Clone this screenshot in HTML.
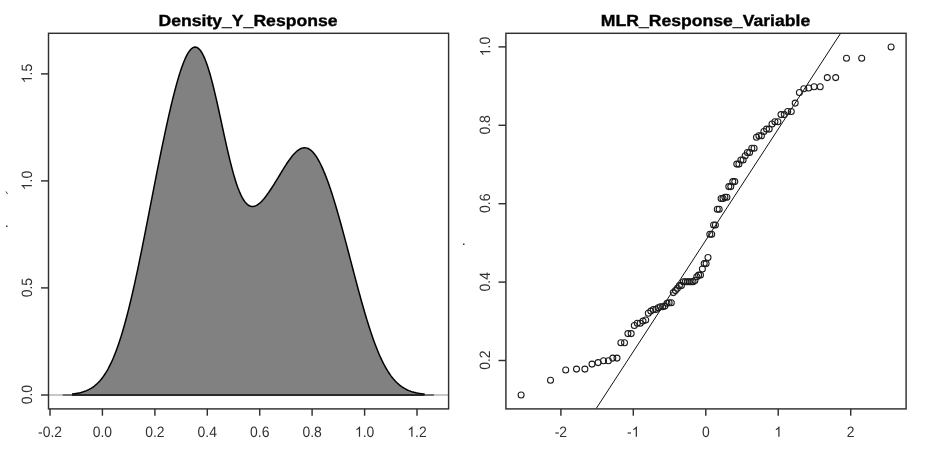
<!DOCTYPE html>
<html><head><meta charset="utf-8"><style>
html,body{margin:0;padding:0;background:#fff;}
body{width:925px;height:451px;overflow:hidden;position:relative;}
svg{position:absolute;left:0;top:0;will-change:transform;}
text{font-family:"Liberation Sans",sans-serif;}
</style></head><body>
<svg width="925" height="451" viewBox="0 0 925 451">
<rect x="0" y="0" width="925" height="451" fill="#fff"/>
<!-- left panel -->
<line x1="48.5" y1="395" x2="448" y2="395" stroke="#b4b4b4" stroke-width="1.6"/>
<line x1="62.7" y1="395" x2="434" y2="395" stroke="#555" stroke-width="1.6"/>
<path d="M72.0,394.05 L73.0,393.93 L74.0,393.81 L75.0,393.67 L76.0,393.51 L77.0,393.34 L78.0,393.15 L79.0,392.94 L80.0,392.72 L81.0,392.47 L82.0,392.19 L83.0,391.89 L84.0,391.57 L85.0,391.21 L86.0,390.83 L87.0,390.40 L88.0,389.95 L89.0,389.45 L90.0,388.91 L91.0,388.33 L92.0,387.71 L93.0,387.03 L94.0,386.30 L95.0,385.52 L96.0,384.68 L97.0,383.78 L98.0,382.81 L99.0,381.78 L100.0,380.68 L101.0,379.51 L102.0,378.26 L103.0,376.93 L104.0,375.52 L105.0,374.02 L106.0,372.44 L107.0,370.76 L108.0,369.00 L109.0,367.13 L110.0,365.17 L111.0,363.11 L112.0,360.95 L113.0,358.68 L114.0,356.31 L115.0,353.83 L116.0,351.24 L117.0,348.54 L118.0,345.74 L119.0,342.82 L120.0,339.79 L121.0,336.64 L122.0,333.39 L123.0,330.03 L124.0,326.56 L125.0,322.98 L126.0,319.30 L127.0,315.51 L128.0,311.62 L129.0,307.64 L130.0,303.55 L131.0,299.37 L132.0,295.11 L133.0,290.75 L134.0,286.31 L135.0,281.80 L136.0,277.21 L137.0,272.55 L138.0,267.82 L139.0,263.03 L140.0,258.19 L141.0,253.29 L142.0,248.35 L143.0,243.37 L144.0,238.35 L145.0,233.29 L146.0,228.21 L147.0,223.11 L148.0,217.99 L149.0,212.86 L150.0,207.72 L151.0,202.58 L152.0,197.44 L153.0,192.31 L154.0,187.19 L155.0,182.09 L156.0,177.00 L157.0,171.94 L158.0,166.91 L159.0,161.91 L160.0,156.94 L161.0,152.02 L162.0,147.14 L163.0,142.32 L164.0,137.55 L165.0,132.83 L166.0,128.18 L167.0,123.60 L168.0,119.09 L169.0,114.66 L170.0,110.30 L171.0,106.04 L172.0,101.87 L173.0,97.80 L174.0,93.84 L175.0,89.99 L176.0,86.25 L177.0,82.64 L178.0,79.16 L179.0,75.82 L180.0,72.63 L181.0,69.58 L182.0,66.70 L183.0,63.98 L184.0,61.44 L185.0,59.08 L186.0,56.91 L187.0,54.94 L188.0,53.18 L189.0,51.62 L190.0,50.28 L191.0,49.17 L192.0,48.28 L193.0,47.64 L194.0,47.23 L195.0,47.06 L196.0,47.14 L197.0,47.47 L198.0,48.06 L199.0,48.89 L200.0,49.98 L201.0,51.32 L202.0,52.92 L203.0,54.75 L204.0,56.83 L205.0,59.15 L206.0,61.71 L207.0,64.48 L208.0,67.47 L209.0,70.67 L210.0,74.06 L211.0,77.64 L212.0,81.40 L213.0,85.31 L214.0,89.36 L215.0,93.55 L216.0,97.85 L217.0,102.25 L218.0,106.73 L219.0,111.27 L220.0,115.86 L221.0,120.48 L222.0,125.11 L223.0,129.74 L224.0,134.35 L225.0,138.91 L226.0,143.42 L227.0,147.85 L228.0,152.19 L229.0,156.43 L230.0,160.56 L231.0,164.55 L232.0,168.40 L233.0,172.09 L234.0,175.62 L235.0,178.98 L236.0,182.15 L237.0,185.14 L238.0,187.93 L239.0,190.53 L240.0,192.92 L241.0,195.11 L242.0,197.10 L243.0,198.89 L244.0,200.48 L245.0,201.87 L246.0,203.07 L247.0,204.08 L248.0,204.90 L249.0,205.54 L250.0,206.01 L251.0,206.32 L252.0,206.46 L253.0,206.46 L254.0,206.31 L255.0,206.03 L256.0,205.62 L257.0,205.09 L258.0,204.45 L259.0,203.70 L260.0,202.86 L261.0,201.93 L262.0,200.91 L263.0,199.82 L264.0,198.66 L265.0,197.43 L266.0,196.15 L267.0,194.81 L268.0,193.42 L269.0,191.99 L270.0,190.52 L271.0,189.01 L272.0,187.48 L273.0,185.91 L274.0,184.32 L275.0,182.71 L276.0,181.08 L277.0,179.44 L278.0,177.80 L279.0,176.14 L280.0,174.49 L281.0,172.84 L282.0,171.20 L283.0,169.57 L284.0,167.96 L285.0,166.37 L286.0,164.81 L287.0,163.28 L288.0,161.79 L289.0,160.34 L290.0,158.95 L291.0,157.61 L292.0,156.33 L293.0,155.11 L294.0,153.98 L295.0,152.92 L296.0,151.94 L297.0,151.05 L298.0,150.26 L299.0,149.57 L300.0,148.99 L301.0,148.51 L302.0,148.14 L303.0,147.89 L304.0,147.76 L305.0,147.76 L306.0,147.88 L307.0,148.12 L308.0,148.49 L309.0,149.00 L310.0,149.63 L311.0,150.39 L312.0,151.29 L313.0,152.31 L314.0,153.46 L315.0,154.75 L316.0,156.15 L317.0,157.69 L318.0,159.34 L319.0,161.12 L320.0,163.01 L321.0,165.02 L322.0,167.14 L323.0,169.37 L324.0,171.70 L325.0,174.14 L326.0,176.68 L327.0,179.31 L328.0,182.04 L329.0,184.86 L330.0,187.76 L331.0,190.74 L332.0,193.81 L333.0,196.94 L334.0,200.15 L335.0,203.43 L336.0,206.77 L337.0,210.17 L338.0,213.62 L339.0,217.13 L340.0,220.69 L341.0,224.30 L342.0,227.94 L343.0,231.62 L344.0,235.34 L345.0,239.08 L346.0,242.85 L347.0,246.64 L348.0,250.44 L349.0,254.26 L350.0,258.08 L351.0,261.91 L352.0,265.74 L353.0,269.56 L354.0,273.38 L355.0,277.18 L356.0,280.96 L357.0,284.71 L358.0,288.44 L359.0,292.14 L360.0,295.80 L361.0,299.43 L362.0,303.00 L363.0,306.53 L364.0,310.01 L365.0,313.43 L366.0,316.80 L367.0,320.10 L368.0,323.33 L369.0,326.50 L370.0,329.59 L371.0,332.62 L372.0,335.56 L373.0,338.43 L374.0,341.22 L375.0,343.93 L376.0,346.55 L377.0,349.09 L378.0,351.55 L379.0,353.92 L380.0,356.21 L381.0,358.41 L382.0,360.52 L383.0,362.55 L384.0,364.50 L385.0,366.37 L386.0,368.15 L387.0,369.85 L388.0,371.47 L389.0,373.01 L390.0,374.48 L391.0,375.87 L392.0,377.19 L393.0,378.44 L394.0,379.62 L395.0,380.73 L396.0,381.78 L397.0,382.77 L398.0,383.69 L399.0,384.56 L400.0,385.38 L401.0,386.14 L402.0,386.85 L403.0,387.51 L404.0,388.13 L405.0,388.71 L406.0,389.24 L407.0,389.74 L408.0,390.20 L409.0,390.62 L410.0,391.01 L411.0,391.38 L412.0,391.71 L413.0,392.01 L414.0,392.30 L415.0,392.55 L416.0,392.79 L417.0,393.00 L418.0,393.20 L419.0,393.38 L420.0,393.54 L421.0,393.69 L422.0,393.83 L423.0,393.95 L424.6,394.12 L424.6,395 L72.0,395 Z" fill="#818181" stroke="none"/>
<path d="M72.0,394.05 L73.0,393.93 L74.0,393.81 L75.0,393.67 L76.0,393.51 L77.0,393.34 L78.0,393.15 L79.0,392.94 L80.0,392.72 L81.0,392.47 L82.0,392.19 L83.0,391.89 L84.0,391.57 L85.0,391.21 L86.0,390.83 L87.0,390.40 L88.0,389.95 L89.0,389.45 L90.0,388.91 L91.0,388.33 L92.0,387.71 L93.0,387.03 L94.0,386.30 L95.0,385.52 L96.0,384.68 L97.0,383.78 L98.0,382.81 L99.0,381.78 L100.0,380.68 L101.0,379.51 L102.0,378.26 L103.0,376.93 L104.0,375.52 L105.0,374.02 L106.0,372.44 L107.0,370.76 L108.0,369.00 L109.0,367.13 L110.0,365.17 L111.0,363.11 L112.0,360.95 L113.0,358.68 L114.0,356.31 L115.0,353.83 L116.0,351.24 L117.0,348.54 L118.0,345.74 L119.0,342.82 L120.0,339.79 L121.0,336.64 L122.0,333.39 L123.0,330.03 L124.0,326.56 L125.0,322.98 L126.0,319.30 L127.0,315.51 L128.0,311.62 L129.0,307.64 L130.0,303.55 L131.0,299.37 L132.0,295.11 L133.0,290.75 L134.0,286.31 L135.0,281.80 L136.0,277.21 L137.0,272.55 L138.0,267.82 L139.0,263.03 L140.0,258.19 L141.0,253.29 L142.0,248.35 L143.0,243.37 L144.0,238.35 L145.0,233.29 L146.0,228.21 L147.0,223.11 L148.0,217.99 L149.0,212.86 L150.0,207.72 L151.0,202.58 L152.0,197.44 L153.0,192.31 L154.0,187.19 L155.0,182.09 L156.0,177.00 L157.0,171.94 L158.0,166.91 L159.0,161.91 L160.0,156.94 L161.0,152.02 L162.0,147.14 L163.0,142.32 L164.0,137.55 L165.0,132.83 L166.0,128.18 L167.0,123.60 L168.0,119.09 L169.0,114.66 L170.0,110.30 L171.0,106.04 L172.0,101.87 L173.0,97.80 L174.0,93.84 L175.0,89.99 L176.0,86.25 L177.0,82.64 L178.0,79.16 L179.0,75.82 L180.0,72.63 L181.0,69.58 L182.0,66.70 L183.0,63.98 L184.0,61.44 L185.0,59.08 L186.0,56.91 L187.0,54.94 L188.0,53.18 L189.0,51.62 L190.0,50.28 L191.0,49.17 L192.0,48.28 L193.0,47.64 L194.0,47.23 L195.0,47.06 L196.0,47.14 L197.0,47.47 L198.0,48.06 L199.0,48.89 L200.0,49.98 L201.0,51.32 L202.0,52.92 L203.0,54.75 L204.0,56.83 L205.0,59.15 L206.0,61.71 L207.0,64.48 L208.0,67.47 L209.0,70.67 L210.0,74.06 L211.0,77.64 L212.0,81.40 L213.0,85.31 L214.0,89.36 L215.0,93.55 L216.0,97.85 L217.0,102.25 L218.0,106.73 L219.0,111.27 L220.0,115.86 L221.0,120.48 L222.0,125.11 L223.0,129.74 L224.0,134.35 L225.0,138.91 L226.0,143.42 L227.0,147.85 L228.0,152.19 L229.0,156.43 L230.0,160.56 L231.0,164.55 L232.0,168.40 L233.0,172.09 L234.0,175.62 L235.0,178.98 L236.0,182.15 L237.0,185.14 L238.0,187.93 L239.0,190.53 L240.0,192.92 L241.0,195.11 L242.0,197.10 L243.0,198.89 L244.0,200.48 L245.0,201.87 L246.0,203.07 L247.0,204.08 L248.0,204.90 L249.0,205.54 L250.0,206.01 L251.0,206.32 L252.0,206.46 L253.0,206.46 L254.0,206.31 L255.0,206.03 L256.0,205.62 L257.0,205.09 L258.0,204.45 L259.0,203.70 L260.0,202.86 L261.0,201.93 L262.0,200.91 L263.0,199.82 L264.0,198.66 L265.0,197.43 L266.0,196.15 L267.0,194.81 L268.0,193.42 L269.0,191.99 L270.0,190.52 L271.0,189.01 L272.0,187.48 L273.0,185.91 L274.0,184.32 L275.0,182.71 L276.0,181.08 L277.0,179.44 L278.0,177.80 L279.0,176.14 L280.0,174.49 L281.0,172.84 L282.0,171.20 L283.0,169.57 L284.0,167.96 L285.0,166.37 L286.0,164.81 L287.0,163.28 L288.0,161.79 L289.0,160.34 L290.0,158.95 L291.0,157.61 L292.0,156.33 L293.0,155.11 L294.0,153.98 L295.0,152.92 L296.0,151.94 L297.0,151.05 L298.0,150.26 L299.0,149.57 L300.0,148.99 L301.0,148.51 L302.0,148.14 L303.0,147.89 L304.0,147.76 L305.0,147.76 L306.0,147.88 L307.0,148.12 L308.0,148.49 L309.0,149.00 L310.0,149.63 L311.0,150.39 L312.0,151.29 L313.0,152.31 L314.0,153.46 L315.0,154.75 L316.0,156.15 L317.0,157.69 L318.0,159.34 L319.0,161.12 L320.0,163.01 L321.0,165.02 L322.0,167.14 L323.0,169.37 L324.0,171.70 L325.0,174.14 L326.0,176.68 L327.0,179.31 L328.0,182.04 L329.0,184.86 L330.0,187.76 L331.0,190.74 L332.0,193.81 L333.0,196.94 L334.0,200.15 L335.0,203.43 L336.0,206.77 L337.0,210.17 L338.0,213.62 L339.0,217.13 L340.0,220.69 L341.0,224.30 L342.0,227.94 L343.0,231.62 L344.0,235.34 L345.0,239.08 L346.0,242.85 L347.0,246.64 L348.0,250.44 L349.0,254.26 L350.0,258.08 L351.0,261.91 L352.0,265.74 L353.0,269.56 L354.0,273.38 L355.0,277.18 L356.0,280.96 L357.0,284.71 L358.0,288.44 L359.0,292.14 L360.0,295.80 L361.0,299.43 L362.0,303.00 L363.0,306.53 L364.0,310.01 L365.0,313.43 L366.0,316.80 L367.0,320.10 L368.0,323.33 L369.0,326.50 L370.0,329.59 L371.0,332.62 L372.0,335.56 L373.0,338.43 L374.0,341.22 L375.0,343.93 L376.0,346.55 L377.0,349.09 L378.0,351.55 L379.0,353.92 L380.0,356.21 L381.0,358.41 L382.0,360.52 L383.0,362.55 L384.0,364.50 L385.0,366.37 L386.0,368.15 L387.0,369.85 L388.0,371.47 L389.0,373.01 L390.0,374.48 L391.0,375.87 L392.0,377.19 L393.0,378.44 L394.0,379.62 L395.0,380.73 L396.0,381.78 L397.0,382.77 L398.0,383.69 L399.0,384.56 L400.0,385.38 L401.0,386.14 L402.0,386.85 L403.0,387.51 L404.0,388.13 L405.0,388.71 L406.0,389.24 L407.0,389.74 L408.0,390.20 L409.0,390.62 L410.0,391.01 L411.0,391.38 L412.0,391.71 L413.0,392.01 L414.0,392.30 L415.0,392.55 L416.0,392.79 L417.0,393.00 L418.0,393.20 L419.0,393.38 L420.0,393.54 L421.0,393.69 L422.0,393.83 L423.0,393.95 L424.6,394.12" fill="none" stroke="#000" stroke-width="1.5" stroke-linejoin="round"/>
<line x1="72" y1="395" x2="424.6" y2="395" stroke="#111" stroke-width="1.4"/>
<rect x="48.5" y="33.3" width="400.1" height="375.6" fill="none" stroke="#303030" stroke-width="1.45"/>
<g stroke="#303030" stroke-width="1.45">
<line x1="50.0" y1="408.9" x2="50.0" y2="415.7"/><line x1="102.4" y1="408.9" x2="102.4" y2="415.7"/><line x1="154.9" y1="408.9" x2="154.9" y2="415.7"/><line x1="207.3" y1="408.9" x2="207.3" y2="415.7"/><line x1="259.7" y1="408.9" x2="259.7" y2="415.7"/><line x1="312.1" y1="408.9" x2="312.1" y2="415.7"/><line x1="364.6" y1="408.9" x2="364.6" y2="415.7"/><line x1="417.0" y1="408.9" x2="417.0" y2="415.7"/>
<line x1="41" y1="395.0" x2="48.5" y2="395.0"/><line x1="41" y1="287.9" x2="48.5" y2="287.9"/><line x1="41" y1="180.9" x2="48.5" y2="180.9"/><line x1="41" y1="73.9" x2="48.5" y2="73.9"/>
</g>
<g font-size="15" fill="#303030" text-anchor="middle" text-rendering="geometricPrecision">
<g transform="translate(50.0,436.7) scale(0.93,1)"><text x="0" y="0">-0.2</text></g><g transform="translate(102.4,436.7) scale(0.93,1)"><text x="0" y="0">0.0</text></g><g transform="translate(154.9,436.7) scale(0.93,1)"><text x="0" y="0">0.2</text></g><g transform="translate(207.3,436.7) scale(0.93,1)"><text x="0" y="0">0.4</text></g><g transform="translate(259.7,436.7) scale(0.93,1)"><text x="0" y="0">0.6</text></g><g transform="translate(312.1,436.7) scale(0.93,1)"><text x="0" y="0">0.8</text></g><g transform="translate(364.6,436.7) scale(0.93,1)"><text x="0" y="0"> .0</text><path transform="translate(-10.426,0) scale(0.007324,-0.007324)" d="M763 0H583V1098Q518 1038 413 979Q309 920 226 890V1057Q377 1125 490 1221Q603 1318 650 1409H763Z"/></g><g transform="translate(417.0,436.7) scale(0.93,1)"><text x="0" y="0"> .2</text><path transform="translate(-10.426,0) scale(0.007324,-0.007324)" d="M763 0H583V1098Q518 1038 413 979Q309 920 226 890V1057Q377 1125 490 1221Q603 1318 650 1409H763Z"/></g>
<g transform="translate(31.8,394.6) rotate(-90) scale(0.93,1)"><text x="0" y="0">0.0</text></g><g transform="translate(31.8,287.6) rotate(-90) scale(0.93,1)"><text x="0" y="0">0.5</text></g><g transform="translate(31.8,180.5) rotate(-90) scale(0.93,1)"><text x="0" y="0"> .0</text><path transform="translate(-10.426,0) scale(0.007324,-0.007324)" d="M763 0H583V1098Q518 1038 413 979Q309 920 226 890V1057Q377 1125 490 1221Q603 1318 650 1409H763Z"/></g><g transform="translate(31.8,73.5) rotate(-90) scale(0.93,1)"><text x="0" y="0"> .5</text><path transform="translate(-10.426,0) scale(0.007324,-0.007324)" d="M763 0H583V1098Q518 1038 413 979Q309 920 226 890V1057Q377 1125 490 1221Q603 1318 650 1409H763Z"/></g>
</g>
<text transform="translate(248,26.4) scale(1.1,1)" font-size="16" font-weight="bold" text-anchor="middle" fill="#000" stroke="#000" stroke-width="0.35" text-rendering="geometricPrecision">Density_Y_Response</text>
<!-- right panel -->
<line x1="596.3" y1="408.4" x2="840.6" y2="33.3" stroke="#111" stroke-width="1.0"/>
<g fill="none" stroke="#1a1a1a" stroke-width="1.05"><circle cx="521.1" cy="395.0" r="3.0"/><circle cx="550.5" cy="380.3" r="3.0"/><circle cx="565.7" cy="370.0" r="3.0"/><circle cx="576.5" cy="369.1" r="3.0"/><circle cx="584.9" cy="369.1" r="3.0"/><circle cx="592.0" cy="364.1" r="3.0"/><circle cx="598.1" cy="362.6" r="3.0"/><circle cx="603.5" cy="360.8" r="3.0"/><circle cx="608.4" cy="360.8" r="3.0"/><circle cx="612.8" cy="358.1" r="3.0"/><circle cx="617.0" cy="358.1" r="3.0"/><circle cx="620.9" cy="342.7" r="3.0"/><circle cx="624.5" cy="342.7" r="3.0"/><circle cx="627.9" cy="333.6" r="3.0"/><circle cx="631.2" cy="333.6" r="3.0"/><circle cx="634.3" cy="325.5" r="3.0"/><circle cx="637.3" cy="323.3" r="3.0"/><circle cx="640.2" cy="323.3" r="3.0"/><circle cx="643.0" cy="321.1" r="3.0"/><circle cx="645.7" cy="320.0" r="3.0"/><circle cx="648.3" cy="313.3" r="3.0"/><circle cx="650.8" cy="311.1" r="3.0"/><circle cx="653.3" cy="309.4" r="3.0"/><circle cx="655.7" cy="309.4" r="3.0"/><circle cx="658.1" cy="307.8" r="3.0"/><circle cx="660.4" cy="306.7" r="3.0"/><circle cx="662.6" cy="306.7" r="3.0"/><circle cx="664.8" cy="306.1" r="3.0"/><circle cx="667.0" cy="303.3" r="3.0"/><circle cx="669.1" cy="302.8" r="3.0"/><circle cx="671.3" cy="302.8" r="3.0"/><circle cx="673.3" cy="292.6" r="3.0"/><circle cx="675.4" cy="290.6" r="3.0"/><circle cx="677.4" cy="288.3" r="3.0"/><circle cx="679.4" cy="285.6" r="3.0"/><circle cx="681.4" cy="285.6" r="3.0"/><circle cx="683.4" cy="281.7" r="3.0"/><circle cx="685.3" cy="281.7" r="3.0"/><circle cx="687.3" cy="281.7" r="3.0"/><circle cx="689.2" cy="281.7" r="3.0"/><circle cx="691.1" cy="281.7" r="3.0"/><circle cx="693.0" cy="281.7" r="3.0"/><circle cx="694.9" cy="280.5" r="3.0"/><circle cx="696.8" cy="276.7" r="3.0"/><circle cx="698.6" cy="275.1" r="3.0"/><circle cx="700.5" cy="275.1" r="3.0"/><circle cx="702.4" cy="268.9" r="3.0"/><circle cx="704.2" cy="263.6" r="3.0"/><circle cx="706.1" cy="263.6" r="3.0"/><circle cx="708.0" cy="257.5" r="3.0"/><circle cx="709.8" cy="234.3" r="3.0"/><circle cx="711.7" cy="234.3" r="3.0"/><circle cx="713.6" cy="224.9" r="3.0"/><circle cx="715.4" cy="224.9" r="3.0"/><circle cx="717.3" cy="209.2" r="3.0"/><circle cx="719.2" cy="209.2" r="3.0"/><circle cx="721.1" cy="198.5" r="3.0"/><circle cx="723.0" cy="198.5" r="3.0"/><circle cx="724.9" cy="197.3" r="3.0"/><circle cx="726.9" cy="197.3" r="3.0"/><circle cx="728.8" cy="186.6" r="3.0"/><circle cx="730.8" cy="186.6" r="3.0"/><circle cx="732.8" cy="181.6" r="3.0"/><circle cx="734.8" cy="181.6" r="3.0"/><circle cx="736.8" cy="164.1" r="3.0"/><circle cx="738.9" cy="164.1" r="3.0"/><circle cx="740.9" cy="159.9" r="3.0"/><circle cx="743.1" cy="159.9" r="3.0"/><circle cx="745.2" cy="155.8" r="3.0"/><circle cx="747.4" cy="152.5" r="3.0"/><circle cx="749.6" cy="152.5" r="3.0"/><circle cx="751.8" cy="148.3" r="3.0"/><circle cx="754.1" cy="148.3" r="3.0"/><circle cx="756.5" cy="137.2" r="3.0"/><circle cx="758.9" cy="135.7" r="3.0"/><circle cx="761.4" cy="135.7" r="3.0"/><circle cx="763.9" cy="131.5" r="3.0"/><circle cx="766.5" cy="129.1" r="3.0"/><circle cx="769.2" cy="129.1" r="3.0"/><circle cx="772.0" cy="124.0" r="3.0"/><circle cx="774.9" cy="121.8" r="3.0"/><circle cx="777.9" cy="121.8" r="3.0"/><circle cx="781.0" cy="114.6" r="3.0"/><circle cx="784.3" cy="114.6" r="3.0"/><circle cx="787.7" cy="111.5" r="3.0"/><circle cx="791.3" cy="111.5" r="3.0"/><circle cx="795.2" cy="103.1" r="3.0"/><circle cx="799.4" cy="92.5" r="3.0"/><circle cx="803.8" cy="88.8" r="3.0"/><circle cx="808.7" cy="88.0" r="3.0"/><circle cx="814.1" cy="86.7" r="3.0"/><circle cx="820.2" cy="86.7" r="3.0"/><circle cx="827.3" cy="77.6" r="3.0"/><circle cx="835.7" cy="77.6" r="3.0"/><circle cx="846.5" cy="58.2" r="3.0"/><circle cx="861.7" cy="58.2" r="3.0"/><circle cx="891.1" cy="47.0" r="3.0"/></g>
<rect x="505.9" y="33.3" width="400.2" height="375.6" fill="none" stroke="#303030" stroke-width="1.45"/>
<g stroke="#303030" stroke-width="1.45">
<line x1="560.9" y1="408.9" x2="560.9" y2="415.7"/><line x1="633.3" y1="408.9" x2="633.3" y2="415.7"/><line x1="705.8" y1="408.9" x2="705.8" y2="415.7"/><line x1="778.2" y1="408.9" x2="778.2" y2="415.7"/><line x1="850.7" y1="408.9" x2="850.7" y2="415.7"/>
<line x1="498.5" y1="360.5" x2="506" y2="360.5"/><line x1="498.5" y1="282.1" x2="506" y2="282.1"/><line x1="498.5" y1="203.7" x2="506" y2="203.7"/><line x1="498.5" y1="125.3" x2="506" y2="125.3"/><line x1="498.5" y1="46.9" x2="506" y2="46.9"/>
</g>
<g font-size="15" fill="#303030" text-anchor="middle" text-rendering="geometricPrecision">
<g transform="translate(560.9,436.7) scale(0.93,1)"><text x="0" y="0">-2</text></g><g transform="translate(633.3,436.7) scale(0.93,1)"><text x="0" y="0">- </text><path transform="translate(-1.674,0) scale(0.007324,-0.007324)" d="M763 0H583V1098Q518 1038 413 979Q309 920 226 890V1057Q377 1125 490 1221Q603 1318 650 1409H763Z"/></g><g transform="translate(705.8,436.7) scale(0.93,1)"><text x="0" y="0">0</text></g><g transform="translate(778.2,436.7) scale(0.93,1)"><text x="0" y="0"> </text><path transform="translate(-4.171,0) scale(0.007324,-0.007324)" d="M763 0H583V1098Q518 1038 413 979Q309 920 226 890V1057Q377 1125 490 1221Q603 1318 650 1409H763Z"/></g><g transform="translate(850.7,436.7) scale(0.93,1)"><text x="0" y="0">2</text></g>
<g transform="translate(490.3,360.1) rotate(-90) scale(0.93,1)"><text x="0" y="0">0.2</text></g><g transform="translate(490.3,281.7) rotate(-90) scale(0.93,1)"><text x="0" y="0">0.4</text></g><g transform="translate(490.3,203.3) rotate(-90) scale(0.93,1)"><text x="0" y="0">0.6</text></g><g transform="translate(490.3,124.9) rotate(-90) scale(0.93,1)"><text x="0" y="0">0.8</text></g><g transform="translate(490.3,46.5) rotate(-90) scale(0.93,1)"><text x="0" y="0"> .0</text><path transform="translate(-10.426,0) scale(0.007324,-0.007324)" d="M763 0H583V1098Q518 1038 413 979Q309 920 226 890V1057Q377 1125 490 1221Q603 1318 650 1409H763Z"/></g>
</g>
<text transform="translate(705.5,26.4) scale(1.1,1)" font-size="16" font-weight="bold" text-anchor="middle" fill="#000" stroke="#000" stroke-width="0.35" text-rendering="geometricPrecision">MLR_Response_Variable</text>
<!-- stray marks -->
<rect x="6" y="225.5" width="1.5" height="1.5" fill="#333"/>
<line x1="6" y1="191.5" x2="7.5" y2="194" stroke="#444" stroke-width="1"/>
<rect x="463" y="243.5" width="1.5" height="1.5" fill="#333"/>
</svg>
</body></html>
